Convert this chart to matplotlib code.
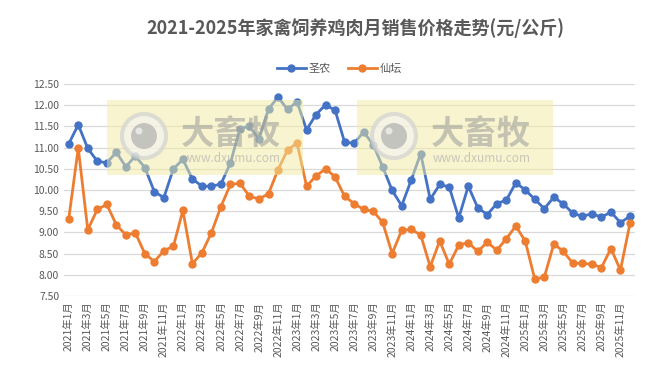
import matplotlib
matplotlib.use("Agg")
import matplotlib.pyplot as plt
from matplotlib.patches import Rectangle, Circle

plt.rcParams['font.family'] = ['Noto Sans CJK SC', 'DejaVu Sans']

months = [f"{y}年{m}月" for y in range(2021, 2026) for m in range(1, 13)]

shengnong = [11.09, 11.54, 10.98, 10.68, 10.64, 10.89, 10.55, 10.80, 10.53, 9.96,
             9.82, 10.50, 10.72, 10.26, 10.09, 10.09, 10.14, 10.64, 11.45, 11.50,
             11.20, 11.91, 12.19, 11.90, 12.08, 11.42, 11.78, 12.01, 11.88, 11.13,
             11.10, 11.37, 11.07, 10.55, 9.99, 9.63, 10.23, 10.86, 9.78, 10.13,
             10.07, 9.34, 10.09, 9.58, 9.42, 9.68, 9.76, 10.17, 10.00, 9.78,
             9.56, 9.83, 9.67, 9.45, 9.38, 9.44, 9.36, 9.48, 9.23, 9.38]

xiantan = [9.32, 10.99, 9.06, 9.54, 9.66, 9.18, 8.94, 8.99, 8.50, 8.31,
           8.57, 8.67, 9.52, 8.26, 8.52, 8.99, 9.61, 10.13, 10.16, 9.85,
           9.79, 9.91, 10.48, 10.94, 11.11, 10.09, 10.33, 10.50, 10.31, 9.85,
           9.68, 9.54, 9.50, 9.24, 8.50, 9.05, 9.07, 8.94, 8.19, 8.80,
           8.25, 8.70, 8.76, 8.55, 8.77, 8.58, 8.85, 9.15, 8.79, 7.89,
           7.95, 8.73, 8.55, 8.27, 8.27, 8.25, 8.17, 8.62, 8.11, 9.21]

yticks = [7.5, 8.0, 8.5, 9.0, 9.5, 10.0, 10.5, 11.0, 11.5, 12.0, 12.5]

W, H = 653, 375
fig = plt.figure(figsize=(W / 100, H / 100), dpi=100)
ax = fig.add_axes([0.098, 0.2107, 0.874, 0.5653])

x = list(range(len(months)))
ax.plot(x, shengnong, color='#4472C4', lw=2.0, marker='o', ms=5, label='圣农', zorder=3)
ax.plot(x, xiantan, color='#ED7D31', lw=2.0, marker='o', ms=5, label='仙坛', zorder=3)

ax.set_xlim(-0.5, len(months) - 0.5)
ax.set_ylim(7.5, 12.5)
ax.set_yticks(yticks)
ax.set_yticklabels([f"{v:.2f}" for v in yticks])
ax.set_xticks(x[::2])
ax.set_xticklabels(months[::2], rotation=90)
ax.tick_params(axis='both', length=0, colors='#595959', labelsize=7.5)
ax.tick_params(axis='x', pad=4)
ax.grid(axis='y', color='#D9D9D9', lw=0.9)
ax.set_axisbelow(True)
for s in ax.spines.values():
    s.set_visible(False)

fig.text(0.545, 0.925, '2021-2025年家禽饲养鸡肉月销售价格走势(元/公斤)',
         ha='center', va='center', fontsize=13, fontweight='bold', color='#595959')

leg = fig.legend(loc='center', bbox_to_anchor=(0.52, 0.816), ncol=2, frameon=False,
                 fontsize=8, handlelength=2.6, columnspacing=1.5, handletextpad=0.3)
for t in leg.get_texts():
    t.set_color('#595959')

# watermarks (pixel positions converted to inches)
inch = fig.dpi_scale_trans
def px(xp, yp):
    return (xp / 100, (H - yp) / 100)

for x0 in [107, 357]:
    y0, w, h = 100, 196, 75
    fig.patches.append(Rectangle(px(x0, y0 + h), w / 100, h / 100, transform=inch,
                                 color='#F3EBA0', alpha=0.5, zorder=5, lw=0))
    cx, cy = x0 + 37, 136
    fig.patches.append(Circle(px(cx, cy), 0.22, transform=inch, facecolor='#F4F4F0',
                              edgecolor='#D0D0D0', lw=3, alpha=0.65, zorder=6))
    fig.patches.append(Circle(px(cx, cy), 0.13, transform=inch, facecolor='#B0B0B0',
                              alpha=0.7, zorder=7, lw=0))
    fig.patches.append(Circle(px(cx - 5, cy - 5), 0.035, transform=inch, facecolor='#F0F0F0',
                              alpha=0.8, zorder=8, lw=0))
    fig.text((x0 + 74) / W, 1 - 134 / H, '大畜牧', fontsize=24, fontweight='bold',
             color='#9A9A9A', alpha=0.55, va='center', ha='left', zorder=8)
    fig.text((x0 + 76) / W, 1 - 159 / H, 'www.dxumu.com', fontsize=8.5,
             color='#A8A8A8', alpha=0.6, va='center', ha='left', zorder=8)

fig.savefig('out.png', dpi=100)
